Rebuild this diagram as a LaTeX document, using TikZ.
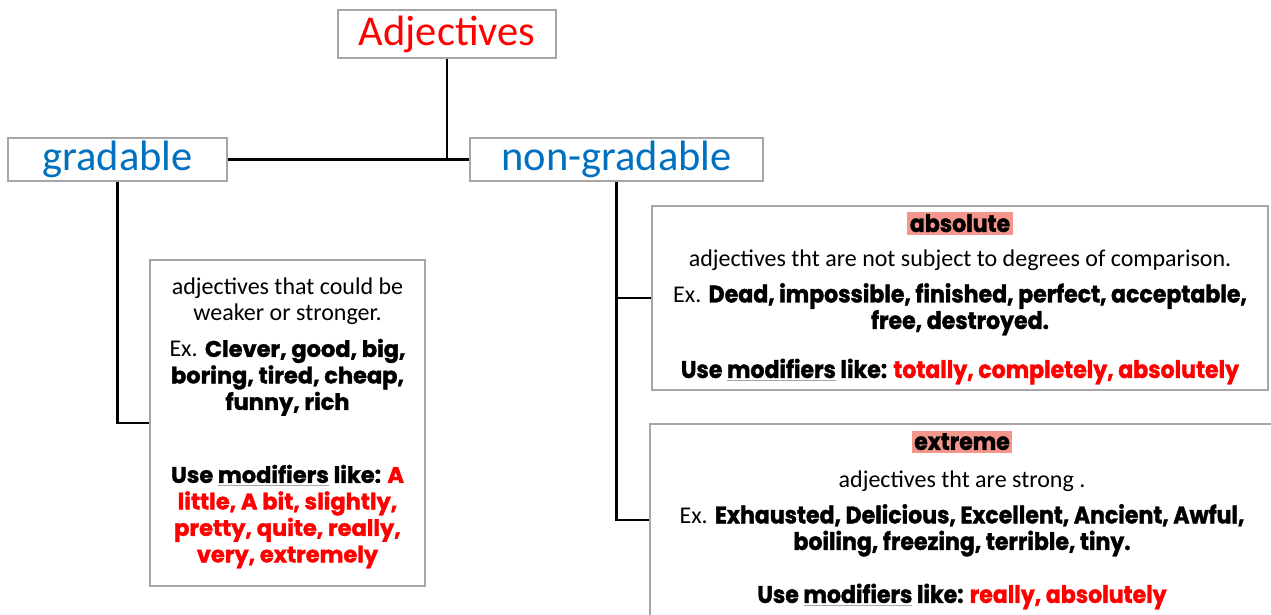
\documentclass[tikz,border=0pt]{standalone}
\usepackage{fontspec}
\setmainfont{Carlito}
\newfontfamily\heavyfont[BoldFeatures={FakeBold=1.5}]{Poppins}
\newfontfamily\heavyfontnarrow[FakeStretch=0.92,BoldFeatures={FakeBold=1.5}]{Poppins}
\usetikzlibrary{positioning}

\definecolor{boxgray}{RGB}{166,166,166}
\definecolor{titlered}{RGB}{255,0,0}
\definecolor{titleblue}{RGB}{0,112,192}
\definecolor{hlred}{RGB}{245,150,140}

\newcommand\bw[1]{{\heavyfont\bfseries\fontsize{22.5}{26.5}\selectfont #1}}
\newcommand\bn[1]{{\heavyfontnarrow\bfseries\fontsize{24}{26.5}\selectfont #1}}
\newcommand\hilite[1]{{\setlength\fboxsep{2.5pt}\colorbox{hlred}{#1}}}
\newcommand\modline[1]{\setbox0\hbox{#1}\rlap{\color{boxgray}\rule[-3.5pt]{\wd0}{1.3pt}}\box0{}}

\begin{document}
\begin{tikzpicture}[x=1pt,y=1pt,
    box/.style={draw=boxgray,line width=1.3pt,fill=white,inner sep=0pt},
    head/.style={box,font=\fontsize{42.5}{46}\selectfont},
    note/.style={box,align=center,font=\fontsize{24}{26.5}\selectfont},
    link/.style={line width=2.4pt}]
    \useasboundingbox[fill=white] (0,0) rectangle (1271,-615);

    % the three headings
    \node[head,text=titlered,minimum width=218pt,minimum height=48pt] (adj) at (447,-34) {Adjectives};
    \node[head,text=titleblue,minimum width=219pt,minimum height=43pt] (grad) at (117.5,-159.5) {gradable};
    \node[head,text=titleblue,minimum width=293pt,minimum height=43pt] (nongrad) at (616.5,-159.5) {non-gradable};

    % the gradable box
    \node[note,minimum width=275pt,minimum height=326pt] (gradnote) at (287.5,-423) {
        adjectives that could be\\
        weaker or stronger.\\[9.5pt]
        Ex. \bw{Clever, good, big,}\\
        \bw{boring, tired, cheap,}\\
        \bw{funny, rich}\\[46.5pt]
        \bw{Use \modline{modifiers} like: \color{titlered}A}\\
        \bw{\color{titlered}little, A bit, slightly,}\\
        \bw{\color{titlered}pretty, quite, really,}\\
        \bw{\color{titlered}very, extremely}};

    % the absolute box
    \node[note,minimum width=616pt,minimum height=184pt] (absnote) at (960,-298) {
        \hilite{\bn{absolute}}\\[8pt]
        adjectives tht are not subject to degrees of comparison.\\[9.5pt]
        Ex. \bn{Dead, impossible, finished, perfect, acceptable,}\\
        \bn{free, destroyed.}\\[22.5pt]
        \bn{Use \modline{modifiers} like: \color{titlered}totally, completely, absolutely}};

    % the extreme box
    \node[note,minimum width=624pt,minimum height=192pt] (extnote) at (962,-520) {
        \hilite{\bn{extreme}}\\[11pt]
        adjectives tht are strong .\\[9.5pt]
        Ex. \bn{Exhausted, Delicious, Excellent, Ancient, Awful,}\\
        \bn{boiling, freezing, terrible, tiny.}\\[26.5pt]
        \bn{Use \modline{modifiers} like: \color{titlered}really, absolutely}};

    % the connectors
    \draw[link] (adj.south) -- (adj.south |- grad.east);
    \draw[link] (grad.east) -- (nongrad.west);
    \draw[link] (grad.south) |- (gradnote.west);
    \draw[link] (nongrad.south) |- (absnote.west);
    \draw[link] (nongrad.south) |- (extnote.west);
\end{tikzpicture}
\end{document}
